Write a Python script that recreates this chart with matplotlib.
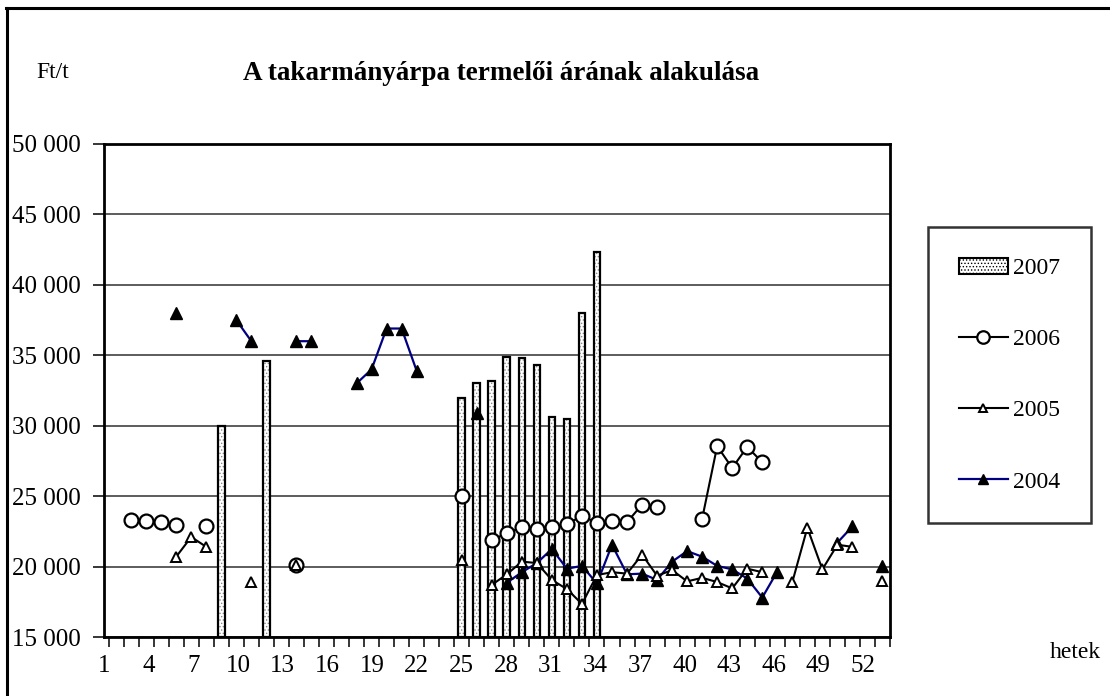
import numpy as np
import matplotlib
matplotlib.use("Agg")
import matplotlib.pyplot as plt
from matplotlib.lines import Line2D
from matplotlib.patches import Patch

plt.rcParams['font.family'] = ['Liberation Serif', 'DejaVu Serif']
plt.rcParams['hatch.linewidth'] = 0.6

# weeks (categories 1..52)
weeks = np.arange(1, 53)
NaN = np.nan

def series(d):
    arr = np.full(52, NaN)
    for w, v in d.items():
        arr[w - 1] = v
    return arr

# 2007 bars
bar_2007 = series({8: 30000, 11: 34600, 24: 32000, 25: 33000, 26: 33150, 27: 34900,
                   28: 34800, 29: 34300, 30: 30650, 31: 30450, 32: 38000, 33: 42300})
# 2006 (open circles)
y_2006 = series({2: 23300, 3: 23200, 4: 23150, 5: 22950, 7: 22900, 13: 20100,
                 24: 25000, 26: 21900, 27: 22350, 28: 22800, 29: 22700, 30: 22800,
                 31: 23000, 32: 23600, 33: 23100, 34: 23250, 35: 23150, 36: 24400,
                 37: 24250, 40: 23400, 41: 28550, 42: 27000, 43: 28500, 44: 27400})
# 2005 (open triangles)
y_2005 = series({5: 20700, 6: 22100, 7: 21400, 10: 18900, 13: 20100, 24: 20500,
                 26: 18700, 27: 19450, 28: 20350, 29: 20250, 30: 19050, 31: 18400,
                 32: 17350, 33: 19400, 34: 19600, 35: 19500, 36: 20850, 37: 19350,
                 38: 19750, 39: 18950, 40: 19200, 41: 18900, 42: 18450, 43: 19850,
                 44: 19600, 46: 18900, 47: 22750, 48: 19800, 49: 21550, 50: 21400,
                 52: 18950})
# 2004 (filled triangles)
y_2004 = series({5: 38000, 9: 37500, 10: 36000, 13: 36000, 14: 36000, 17: 33000,
                 18: 34000, 19: 36900, 20: 36900, 21: 33900, 25: 30900, 27: 18850,
                 28: 19600, 29: 20250, 30: 21250, 31: 19850, 32: 20050, 33: 18800,
                 34: 21550, 35: 19450, 36: 19500, 37: 19050, 38: 20350, 39: 21100,
                 40: 20700, 41: 20050, 42: 19800, 43: 19150, 44: 17800, 45: 19650,
                 49: 21700, 50: 22850, 52: 20050})

tick_labels = [str(k) for k in range(1, 53, 3)]
y_ticks = [15000, 20000, 25000, 30000, 35000, 40000, 45000, 50000]

W, H = 1110, 696
fig = plt.figure(figsize=(W / 100, H / 100), dpi=100)
ax = fig.add_axes([104.3 / W, 1 - 637 / H, (890 - 104.3) / W, (637 - 144) / H])

# bars: dotted fill then black outline
bw = 0.44
ax.bar(weeks, bar_2007 - 15000, bottom=15000, width=bw, color='white',
       hatch='.....', edgecolor='#888888', linewidth=0, zorder=2)
ax.bar(weeks, bar_2007 - 15000, bottom=15000, width=bw, fill=False,
       edgecolor='black', linewidth=1.6, zorder=2.5)

ax.plot(weeks, y_2006, color='black', lw=1.5, marker='o', ms=10,
        mfc='white', mec='black', mew=1.6, zorder=4)
ax.plot(weeks, y_2005, color='black', lw=1.5, marker='^', ms=6.5,
        mfc='white', mec='black', mew=1.4, zorder=5)
ax.plot(weeks, y_2004, color='#000080', lw=1.6, marker='^', ms=8,
        mfc='black', mec='black', mew=1, zorder=3)

ax.set_xlim(0.5, 52.5)
ax.set_ylim(15000, 50000)
ax.set_yticks(y_ticks)
ax.set_yticklabels([f"{v:,}".replace(",", " ") for v in y_ticks], fontsize=18)
ax.yaxis.grid(True, color='#303030', lw=1.1, zorder=0)
ax.set_axisbelow(True)

# category boundary ticks and labels
ax.set_xticks(np.arange(0.5, 53.0, 1.0), minor=True)
label_pos = [0.215 + 0.990 * (k - 1) for k in range(1, 53, 3)]
ax.set_xticks(label_pos)
ax.set_xticklabels(tick_labels, fontsize=18)
ax.tick_params(axis='x', which='major', length=0, pad=13)
ax.tick_params(axis='x', which='minor', length=7, width=1.1, direction='out')
ax.tick_params(axis='y', length=8, width=1.1, direction='out', pad=9)
for s in ax.spines.values():
    s.set_linewidth(2)
    s.set_color('black')

# texts
fig.text(53 / W, 1 - 73 / H, "Ft/t", ha='center', va='center', fontsize=17)
fig.text(501 / W, 1 - 73 / H, "A takarmányárpa termelői árának alakulása",
         ha='center', va='center', fontsize=19.5, fontweight='bold')
fig.text(1075 / W, 1 - 652 / H, "hetek", ha='center', va='center', fontsize=17)

# legend
handles = [
    Patch(facecolor='white', edgecolor='black', hatch='.....', lw=1.5),
    Line2D([], [], color='black', lw=1.5, marker='o', ms=9, mfc='white', mec='black', mew=1.6),
    Line2D([], [], color='black', lw=1.5, marker='^', ms=6, mfc='white', mec='black', mew=1.4),
    Line2D([], [], color='#000080', lw=1.6, marker='^', ms=7.5, mfc='black', mec='black'),
]
leg = fig.legend(handles, ['2007', '2006', '2005', '2004'],
                 loc='upper left', bbox_to_anchor=(928 / W, 1 - 227 / H),
                 fontsize=17, frameon=True, fancybox=False, handlelength=2.1,
                 handletextpad=0.2, labelspacing=2.1, borderpad=1.3,
                 borderaxespad=0)
leg.get_frame().set_edgecolor('black')
leg.get_frame().set_linewidth(1.8)

# outer frame
fig.add_artist(Line2D([6 / W, 1.0], [1 - 8 / H, 1 - 8 / H], color='black', lw=2.2,
                      transform=fig.transFigure))
fig.add_artist(Line2D([7 / W, 7 / W], [0, 1 - 8 / H], color='black', lw=2.2,
                      transform=fig.transFigure))

fig.savefig("out.png", dpi=100)
